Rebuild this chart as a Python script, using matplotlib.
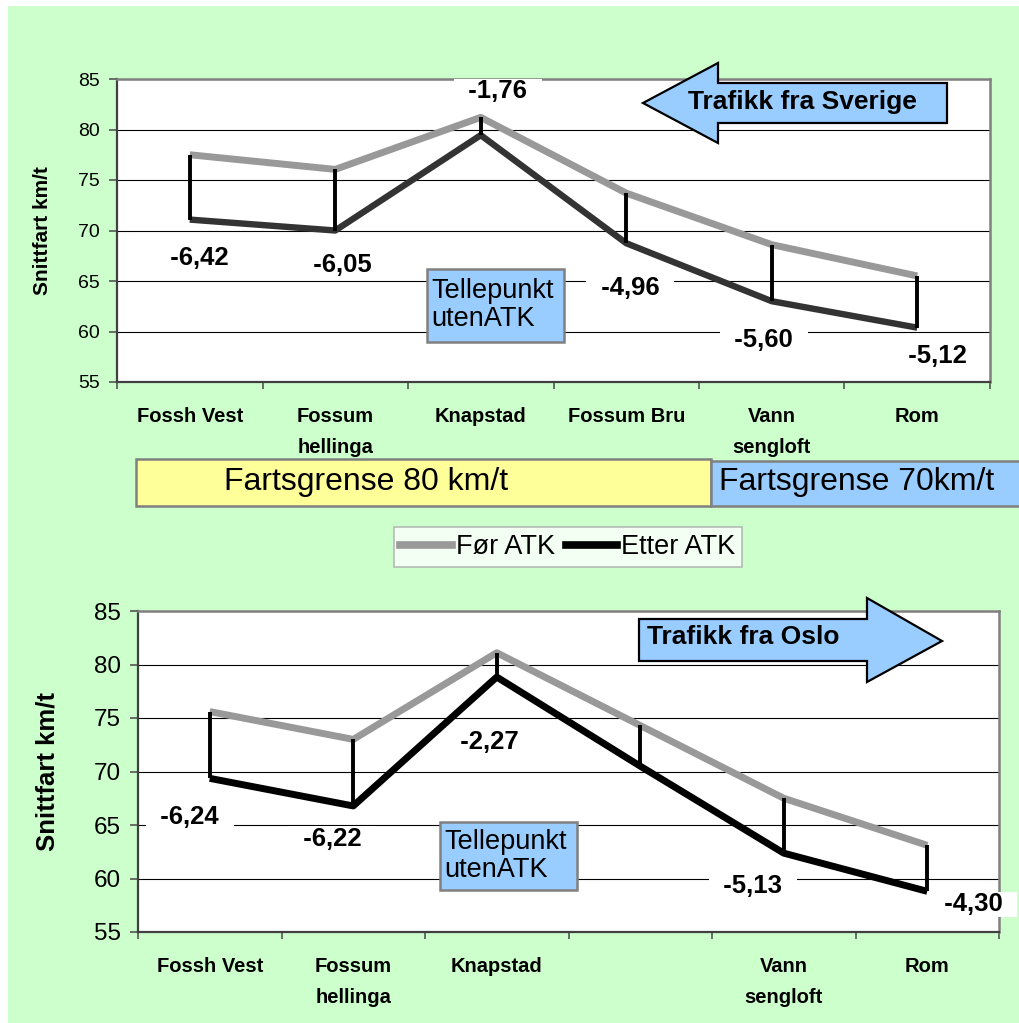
import numpy as np
import matplotlib
matplotlib.use("Agg")
import matplotlib.pyplot as plt
from matplotlib.patches import Rectangle, Polygon
from matplotlib.lines import Line2D

plt.rcParams['font.family'] = ['Liberation Sans', 'DejaVu Sans']

# data
steder_topp = ["Fossh Vest", "Fossum\nhellinga", "Knapstad", "Fossum Bru", "Vann\nsengloft", "Rom"]
steder_bunn = ["Fossh Vest", "Fossum\nhellinga", "Knapstad", "", "Vann\nsengloft", "Rom"]

for_topp = [77.5, 76.05, 81.2, 73.7, 68.6, 65.5]
etter_topp = [71.08, 70.0, 79.44, 68.74, 63.0, 60.38]
diff_topp = ["-6,42", "-6,05", "-1,76", "-4,96", "-5,60", "-5,12"]

for_bunn = [75.6, 73.0, 81.1, 74.3, 67.5, 63.1]
etter_bunn = [69.36, 66.78, 78.83, 70.5, 62.37, 58.8]
diff_bunn = ["-6,24", "-6,22", "-2,27", "", "-5,13", "-4,30"]

# label offsets in pixels from the "etter" point
off_topp = [(10, -38), (7, -34), (17, 44), (4, -45), (-8, -39), (20, -28)]
off_bunn = [(-20, -39), (-21, -33), (-7, -65), (0, 0), (-31, -33), (46, -13)]

W, H = 1019, 1023
GREEN = "#CCFFCC"
BLUE = "#99CCFF"
YELLOW = "#FFFF99"


def fx(px):
    return px / W


def fy(py):
    return 1 - py / H


fig = plt.figure(figsize=(W / 100, H / 100), dpi=100)
fig.patch.set_facecolor("white")
fig.add_artist(Rectangle((fx(8), 0), 1 - fx(8), 1 - 6 / H, transform=fig.transFigure,
                         fc=GREEN, ec="none", zorder=-5))


def lag_graf(ax, steder, for_v, etter_v, diffs, offs, etter_farge, lw_etter,
             tick_fs, ylab_fs, ylab_x):
    x = np.arange(len(steder))
    ax.set_facecolor("white")
    ax.set_xlim(-0.5, len(steder) - 0.5)
    ax.set_ylim(55, 85)
    ax.set_yticks(np.arange(55, 86, 5))
    ax.set_axisbelow(True)
    ax.grid(axis="y", color="black", lw=0.8)
    ax.plot(x, for_v, color="#999999", lw=5, solid_capstyle="butt", zorder=3)
    ax.plot(x, etter_v, color=etter_farge, lw=lw_etter, solid_capstyle="butt", zorder=3)
    ax.vlines(x, etter_v, for_v, color="black", lw=2.8, zorder=4)

    for i, d in enumerate(diffs):
        if d == "":
            continue
        ax.annotate("  " + d + "  ", xy=(x[i], etter_v[i]), xytext=offs[i],
                    textcoords="offset pixels", ha="center", va="center",
                    fontsize=18.5, fontweight="bold", zorder=6,
                    bbox=dict(boxstyle="square,pad=0.02", fc="white", ec="none"))

    ax.set_xticks(x)
    ax.set_xticklabels(steder, fontsize=14.5, fontweight="bold", linespacing=1.8)
    ax.set_xticks(np.arange(-0.5, len(steder), 1), minor=True)
    ax.tick_params(axis="x", which="major", length=0, pad=18)
    ax.tick_params(axis="x", which="minor", length=5, color="#555555", width=1.2)
    ax.tick_params(axis="y", length=5.5, color="#555555", width=1.2, labelsize=tick_fs, pad=7)
    ax.set_ylabel("Snittfart km/t", fontsize=ylab_fs, fontweight="bold")
    ax.yaxis.set_label_coords(ylab_x, 0.5)
    for s in ["top", "right"]:
        ax.spines[s].set_color("#808080")
        ax.spines[s].set_linewidth(1.8)
    for s in ["left", "bottom"]:
        ax.spines[s].set_color("#404040")
        ax.spines[s].set_linewidth(1.6)


ax1 = fig.add_axes([fx(117), fy(382), 873 / W, 303 / H])
lag_graf(ax1, steder_topp, for_topp, etter_topp, diff_topp, off_topp, "#333333", 4.6,
         14, 15, -65 / 873)

ax2 = fig.add_axes([fx(138), fy(932), 861 / W, 321 / H])
lag_graf(ax2, steder_bunn, for_bunn, etter_bunn, diff_bunn, off_bunn, "black", 5.0,
         17.5, 18.5, -78 / 861)


def boks(x0, y0, x1, y1, fc, ec="#808080", lw=1.8, z=5):
    fig.add_artist(Rectangle((fx(x0), fy(y1)), fx(x1) - fx(x0), fy(y0) - fy(y1),
                             transform=fig.transFigure, fc=fc, ec=ec, lw=lw, zorder=z))


def pil(punkter, z=5):
    fig.add_artist(Polygon([(fx(a), fy(b)) for a, b in punkter], closed=True,
                           transform=fig.transFigure, fc=BLUE, ec="black", lw=1.6, zorder=z))


# Tellepunkt boxes
boks(427, 269, 564, 342, BLUE)
fig.text(fx(431), fy(305), "Tellepunkt\nutenATK", ha="left", va="center", fontsize=19.5,
         linespacing=1.1, zorder=6)
boks(440, 822, 577, 890, BLUE)
fig.text(fx(444), fy(856), "Tellepunkt\nutenATK", ha="left", va="center", fontsize=19.5,
         linespacing=1.1, zorder=6)

# direction arrows
pil([(643, 103), (718, 63), (718, 83), (947, 83), (947, 123), (718, 123), (718, 143)])
fig.text(fx(802), fy(102), "Trafikk fra Sverige", ha="center", va="center",
         fontsize=19, fontweight="bold", zorder=6)
pil([(639, 619), (867, 619), (867, 598), (942, 641), (867, 682), (867, 661), (639, 661)])
fig.text(fx(647), fy(637), "Trafikk fra Oslo", ha="left", va="center",
         fontsize=19, fontweight="bold", zorder=6)

# speed limit bars
boks(136, 459, 711, 506, YELLOW)
fig.text(fx(366), fy(482), "Fartsgrense 80 km/t", ha="center", va="center", fontsize=23, zorder=6)
boks(711, 461, 1030, 506, BLUE)
fig.text(fx(719), fy(482), "Fartsgrense 70km/t", ha="left", va="center", fontsize=23, zorder=6)

# legend
handles = [Line2D([], [], color="#999999", lw=5.5), Line2D([], [], color="black", lw=5.5)]
leg = fig.legend(handles, ["Før ATK", "Etter ATK"], loc="center",
                 bbox_to_anchor=(fx(568), fy(547)), ncol=2, fontsize=19.5, frameon=True,
                 fancybox=False, edgecolor="#aaaaaa", handlelength=1.9, handletextpad=0.15,
                 columnspacing=0.4, borderpad=0.25, borderaxespad=0)
leg.get_frame().set_linewidth(1.2)

fig.savefig("out.png", dpi=100)
